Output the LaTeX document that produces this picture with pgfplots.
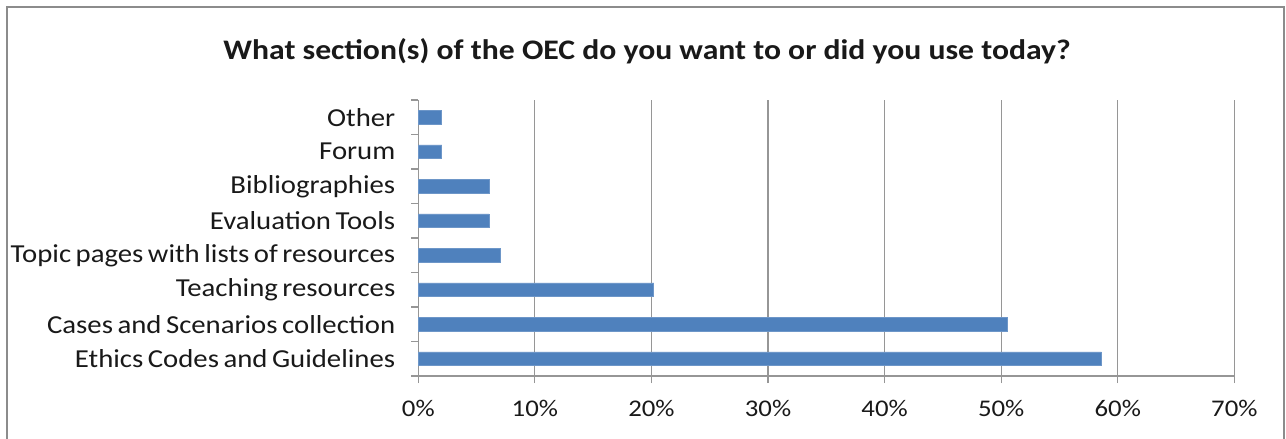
\documentclass[border=0pt]{standalone}
\usepackage{fontspec}
\setmainfont{Carlito}[FakeStretch=1.12]
\newfontfamily\labelfont{Carlito}[FakeStretch=1.11, WordSpace=0.7]
\usepackage{pgfplots}
\pgfplotsset{compat=1.18}
\definecolor{barblue}{HTML}{4F81BD}
\definecolor{baredge}{HTML}{6D96C8}
\definecolor{gridgray}{HTML}{969696}
\definecolor{framegray}{HTML}{8C8C8C}
\begin{document}
\begin{tikzpicture}[x=1bp,y=1bp]
\useasboundingbox (0,0) rectangle (643,219);
\draw[framegray, line width=0.8bp] (3.6,-10) rectangle (642.1,215.5);
\node[font=\fontsize{14.2}{17}\selectfont\bfseries, text=black!90] at (323.5,193.5) {What section(s) of the OEC do you want to or did you use today?};
\begin{axis}[
 at={(209.15bp,31bp)}, anchor=south west,
 scale only axis, width=408bp, height=138bp,
 xmin=0, xmax=70, ymin=-0.5, ymax=7.5,
 axis x line*=bottom, axis y line*=left,
 axis line style={gridgray, line width=0.6bp, -},
 xtick={0,10,...,70},
 xticklabels={0\%,10\%,20\%,30\%,40\%,50\%,60\%,70\%},
 xmajorgrids, major grid style={gridgray, line width=0.6bp},
 tick align=outside, major tick length=3.5bp,
 tick style={gridgray, line width=0.6bp},
 ytick={-0.5,0.5,...,7.5}, yticklabels={},
 extra y ticks={0,1,2,3,4,5,6,7},
 extra y tick labels={Ethics Codes and Guidelines, Cases and Scenarios collection, Teaching resources, Topic pages with lists of resources, Evaluation Tools, Bibliographies, Forum, Other},
 extra y tick style={major tick length=0pt},
 xticklabel style={font=\fontsize{12}{14}\selectfont, text=black!90, yshift=-5bp},
 yticklabel style={font=\labelfont\fontsize{13}{15}\selectfont, text=black!90, xshift=-8bp},
 xbar, bar width=6.8bp,
 clip=false,
]
\addplot[fill=barblue, draw=baredge, line width=0.4bp] coordinates {(58.6,0) (50.5,1) (20.2,2) (7.07,3) (6.06,4) (6.06,5) (2.02,6) (2.02,7)};
\end{axis}
\end{tikzpicture}
\end{document}
